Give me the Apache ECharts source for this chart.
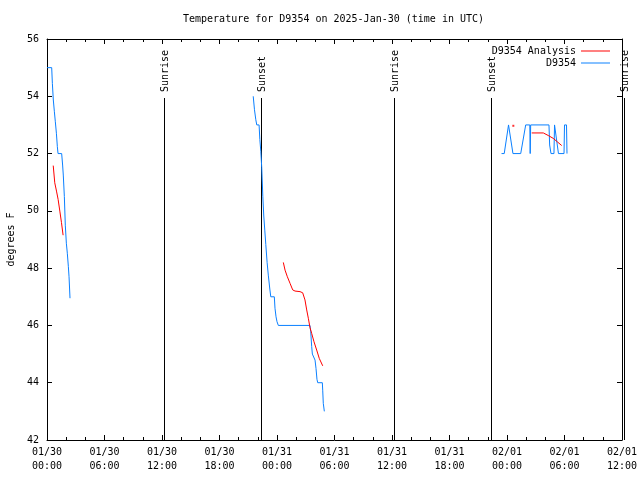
<!DOCTYPE html>
<html>
<head>
<meta charset="utf-8">
<script src="https://cdn.jsdelivr.net/npm/echarts@6/dist/echarts.min.js"></script>
<style>html,body{margin:0;padding:0;background:#fff;}#c{width:640px;height:480px;}</style>
</head>
<body>
<div id="c"></div>
<script>
// Hours since 2025-01-30 00:00 UTC
const obsHours1 = [0.00,0.49,0.56,0.66,0.77,0.87,0.98,1.08,1.15,1.53,1.63,1.70,1.81,1.91,2.02,2.12,2.23,2.30,2.40];
const obsTemps1 = [55.0,55.0,54.45,53.87,53.46,53.11,52.71,52.24,52.0,52.0,51.6,51.25,50.5,49.5,48.87,48.52,48.05,47.7,46.95];
const obsHours2 = [21.52,21.65,21.79,21.89,22.13,22.21,22.31,22.41,22.52,22.62,22.73,22.83,22.97,23.10,23.25,23.35,23.72,23.79,23.90,24.00,24.14,27.44,27.52,27.62,27.69,27.86,27.97,28.07,28.17,28.25,28.73,28.77,28.83,28.94];
const obsTemps2 = [54.0,53.53,53.18,53.0,53.0,52.49,52.08,51.5,50.51,49.82,49.3,48.83,48.19,47.73,47.27,47.0,47.0,46.6,46.3,46.13,46.0,46.0,45.78,45.26,45.0,45.0,44.79,44.5,44.12,44.0,44.0,43.74,43.28,43.0];
const obsHours3 = [47.43,47.71,48.16,48.26,48.62,49.43,49.95,50.38,50.42,50.47,52.38,52.45,52.59,52.90,52.96,53.06,53.37,53.95,54.00,54.21,54.26];
const obsTemps3 = [52,52,53,53,52,52,53,53,52,53,53,52.3,52,52,53,53,52,52,53,53,52];

const anaHours1 = [0.65,0.81,0.99,1.16,1.34,1.51,1.68];
const anaTemps1 = [51.58,50.98,50.69,50.4,49.99,49.59,49.15];
const anaHours2 = [24.66,24.84,25.08,25.36,25.64,25.88,26.40,26.68,26.92,27.10,27.27,27.44,27.62,27.86,28.14,28.41,28.77];
const anaTemps2 = [48.2,47.93,47.70,47.47,47.24,47.2,47.18,47.14,46.89,46.54,46.25,45.93,45.72,45.43,45.14,44.85,44.59];
const anaHours3 = [50.58,51.79,52.31,52.83,53.25,53.71];
const anaTemps3 = [52.72,52.72,52.63,52.53,52.41,52.28];
const anaDotHours = [48.66];
const anaDotTemps = [52.97];

const sunHours = [12.21, 22.33, 36.20, 46.36, 60.20];
const sunLabels = ['Sunrise', 'Sunset', 'Sunrise', 'Sunset', 'Sunrise'];
const sunLineTop = 53.94;

const yMin = 42, yMax = 56, yStep = 2;
const xMin = 0, xMax = 60, xStep = 6;
const START_UTC = Date.UTC(2025, 0, 30);

const titleText = 'Temperature for D9354 on 2025-Jan-30 (time in UTC)';
const yName = 'degrees F';
const obsName = 'D9354';
const anaName = 'D9354 Analysis';

function pairs(hs, ts) { return hs.map((h, i) => [h, ts[i]]); }
function joinSegs(segs) {
  const out = [];
  segs.forEach((s, i) => { if (i > 0) out.push([null, null]); out.push(...s); });
  return out;
}
function fmtTime(h) {
  const d = new Date(START_UTC + h * 3600000);
  const p = n => String(n).padStart(2, '0');
  return p(d.getUTCMonth() + 1) + '/' + p(d.getUTCDate()) + '\n' + p(d.getUTCHours()) + ':' + p(d.getUTCMinutes());
}

const FONT = "'DejaVu Sans Mono', monospace";
const chart = echarts.init(document.getElementById('c'), null, {renderer: 'canvas'});

const xBase = {
  type: 'value', min: xMin, max: xMax, interval: xStep,
  axisLine: {show: true, onZero: false, lineStyle: {color: '#000', width: 1}},
  axisTick: {show: true, inside: true, length: 5, lineStyle: {color: '#000'}},
  minorTick: {show: true, splitNumber: 3, length: 3, lineStyle: {color: '#000'}},
  splitLine: {show: false}
};
const yBase = {
  type: 'value', min: yMin, max: yMax, interval: yStep,
  axisLine: {show: true, onZero: false, lineStyle: {color: '#000', width: 1}},
  axisTick: {show: true, inside: true, length: 5, lineStyle: {color: '#000'}},
  splitLine: {show: false}
};

chart.setOption({
  animation: false,
  backgroundColor: '#fff',
  title: {
    text: titleText, left: 183, top: 14, padding: 0,
    textStyle: {fontFamily: FONT, fontSize: 10, fontWeight: 'normal', color: '#000'}
  },
  legend: {
    data: [anaName, obsName],
    orient: 'vertical', align: 'right', right: 30, top: 45, padding: 0,
    icon: 'rect', itemWidth: 29, itemHeight: 1, itemGap: 0,
    textStyle: {fontFamily: FONT, fontSize: 10, color: '#000', lineHeight: 12}
  },
  grid: {left: 47, right: 18, top: 39, bottom: 40, containLabel: false, outerBoundsMode: 'none'},
  xAxis: [
    Object.assign({}, xBase, {
      position: 'bottom',
      axisLabel: {show: true, formatter: fmtTime, fontFamily: FONT, fontSize: 10, color: '#000', margin: 5, lineHeight: 14}
    }),
    Object.assign({}, xBase, {position: 'top', axisLabel: {show: false}})
  ],
  yAxis: [
    Object.assign({}, yBase, {
      position: 'left',
      name: yName, nameLocation: 'middle', nameRotate: 90, nameGap: 30,
      nameTextStyle: {fontFamily: FONT, fontSize: 10, color: '#000'},
      axisLabel: {show: true, fontFamily: FONT, fontSize: 10, color: '#000', margin: 8}
    }),
    Object.assign({}, yBase, {position: 'right', axisLabel: {show: false}})
  ],
  series: [
    {
      name: anaName, type: 'line', symbol: 'none', connectNulls: false,
      lineStyle: {color: '#ff0000', width: 1}, itemStyle: {color: '#ff0000'},
      data: joinSegs([pairs(anaHours1, anaTemps1), pairs(anaHours2, anaTemps2), pairs(anaHours3, anaTemps3)]),
      z: 3
    },
    {
      name: obsName, type: 'line', symbol: 'none', connectNulls: false,
      lineStyle: {color: '#0a80ff', width: 1}, itemStyle: {color: '#0a80ff'},
      data: joinSegs([pairs(obsHours1, obsTemps1), pairs(obsHours2, obsTemps2), pairs(obsHours3, obsTemps3)]),
      z: 2
    },
    {
      name: anaName, type: 'scatter', symbol: 'rect', symbolSize: 2,
      itemStyle: {color: '#ff0000'},
      data: pairs(anaDotHours, anaDotTemps), z: 3
    },
    {
      name: 'sun', type: 'custom', clip: false, silent: true,
      data: sunHours.map(h => [h, yMin]),
      renderItem: function (params, api) {
        const t = api.value(0);
        const b = api.coord([t, yMin]);
        const tp = api.coord([t, sunLineTop]);
        const px = Math.round(b[0]) + 0.5;
        return {
          type: 'group',
          children: [
            {type: 'line', shape: {x1: px, y1: b[1], x2: px, y2: tp[1]}, style: {stroke: '#000', lineWidth: 1}},
            {type: 'text', x: px + 1, y: tp[1] - 6, rotation: Math.PI / 2,
             style: {text: sunLabels[params.dataIndex], fontFamily: FONT, fontSize: 10, fill: '#000', align: 'left', verticalAlign: 'middle'}}
          ]
        };
      },
      z: 1
    }
  ]
});
</script>
</body>
</html>
